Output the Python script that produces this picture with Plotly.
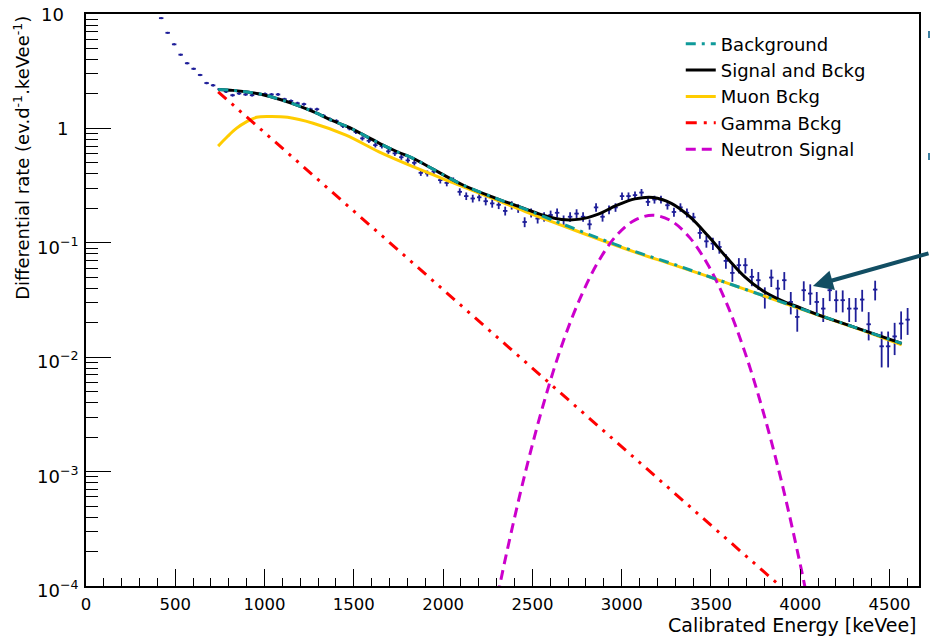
import numpy as np
import plotly.graph_objects as go

# ---------------- data ----------------
bin_first_center = 421.0    # keVee
bin_width = 36.35           # keVee
exposure = 670.0            # rate -> counts conversion for Poisson errors

rate = [9.2, 6.85, 5.43, 4.41, 3.71, 3.32, 2.93, 2.49, 2.38, 2.2,
        2.1, 1.95, 2.02, 1.98, 1.95, 2.0, 2.0, 1.98, 1.98, 1.8,
        1.74, 1.66, 1.63, 1.47, 1.47, 1.29, 1.2, 1.16, 1.05, 1.0,
        0.93, 0.818, 0.78, 0.714, 0.70, 0.63, 0.605, 0.56, 0.525, 0.50,
        0.409, 0.404, 0.42, 0.353, 0.334, 0.35, 0.279, 0.256, 0.244, 0.25,
        0.231, 0.221, 0.215, 0.19, 0.213, 0.20, 0.152, 0.183, 0.163, 0.169,
        0.175, 0.183, 0.158, 0.169, 0.180, 0.169, 0.145, 0.204, 0.169, 0.195,
        0.204, 0.256, 0.256, 0.261, 0.275, 0.228, 0.239, 0.239, 0.213, 0.186,
        0.204, 0.183, 0.167, 0.122, 0.103, 0.0986, 0.092, 0.0695, 0.0546, 0.0637,
        0.0637, 0.0504, 0.0471, 0.0337, 0.0497, 0.0398, 0.0471, 0.0304, 0.0225, 0.0385,
        0.036, 0.0304, 0.0266, 0.0385, 0.0315, 0.0315, 0.0266, 0.0266, 0.0319, 0.0194,
        0.039, 0.01245, 0.01245, 0.0152, 0.0197, 0.0213]

energy = [bin_first_center + bin_width * i for i in range(len(rate))]
rate_err = [np.sqrt(r * exposure) / exposure for r in rate]

# fitted curves
bg_E = [740, 822, 904, 985, 1088, 1180, 1282, 1374, 1467, 1559, 1651, 1743, 1835,
        1927, 2111, 2296, 2460, 2562, 2664, 2869, 3074, 3278, 3483, 3688, 3893,
        4097, 4302, 4568]
bg_y = [2.19, 2.15, 2.08, 1.98, 1.79, 1.60, 1.38, 1.18, 1.03, 0.87, 0.73, 0.625, 0.545,
        0.455, 0.32, 0.245, 0.197, 0.170, 0.147, 0.110, 0.084, 0.066, 0.051, 0.0394, 0.0305,
        0.0236, 0.0183, 0.0132]

sb_E = [740, 822, 904, 985, 1088, 1180, 1282, 1374, 1467, 1559, 1651, 1743, 1835,
        1927, 2111, 2296, 2460, 2562, 2664, 2767, 2869, 2971, 3074, 3176, 3278, 3381,
        3483, 3586, 3688, 3790, 3893, 3995, 4097, 4302, 4568]
sb_y = [2.19, 2.15, 2.08, 1.98, 1.79, 1.60, 1.38, 1.18, 1.03, 0.87, 0.73, 0.625, 0.545,
        0.455, 0.32, 0.245, 0.198, 0.174, 0.160, 0.161, 0.178, 0.212, 0.242, 0.249, 0.221, 0.169,
        0.115, 0.075, 0.0507, 0.0381, 0.0314, 0.0272, 0.0236, 0.0183, 0.0132]

muon_E = [740, 791, 842, 898, 955, 1026, 1129, 1272, 1456, 1641, 1835, 2050, 2255,
          2460, 2664, 2869, 3074, 3278, 3483, 3688, 3893, 4097, 4302, 4568]
muon_y = [0.70, 0.845, 1.0, 1.14, 1.25, 1.27, 1.25, 1.11, 0.873, 0.624, 0.461, 0.338, 0.252,
          0.1875, 0.142, 0.108, 0.083, 0.065, 0.0508, 0.0393, 0.0304, 0.0235, 0.0182, 0.0128]

gamma_E = [740, 1026, 1538, 2050, 2562, 3074, 3586, 4097]
gamma_y = [2.09, 0.845, 0.1675, 0.0332, 0.00659, 0.00131, 2.6e-4, 5.15e-5]

neutron_E = [2255, 2306, 2357, 2460, 2562, 2664, 2767, 2869, 2971, 3074, 3176, 3278,
             3381, 3483, 3586, 3688, 3790, 3893, 3995, 4046, 4097]
neutron_y = [3.2e-5, 8.3e-5, 1.99e-4, 9.8e-4, 3.9e-3, 0.0126, 0.0327, 0.0684, 0.116, 0.158,
             0.174, 0.155, 0.111, 0.0642, 0.030, 0.0113, 3.44e-3, 8.45e-4, 1.68e-4, 6.9e-5, 2.7e-5]

y_tickvals = [1e-4, 1e-3, 1e-2, 1e-1, 1, 10]
y_ticktext = ["10<sup>\u22124</sup>", "10<sup>\u22123</sup>", "10<sup>\u22122</sup>",
              "10<sup>\u22121</sup>", "1", "10"]

# ---------------- styles ----------------
FONT = "DejaVu Sans, Liberation Sans, Arial, sans-serif"
C_DATA = "#1f1f99"
C_TEAL = "#0f9a9a"
C_YEL = "#FFCC00"
C_RED = "#FF0000"
C_MAG = "#CC00CC"

fig = go.Figure()

fig.add_trace(go.Scatter(
    x=energy, y=rate, mode="markers",
    marker=dict(size=2, color=C_DATA),
    error_x=dict(type="constant", value=12.5, thickness=1.8, width=0, color=C_DATA),
    error_y=dict(type="data", array=rate_err, thickness=1.8, width=0, color=C_DATA),
    showlegend=False, hoverinfo="skip"))

fig.add_trace(go.Scatter(x=muon_E, y=muon_y, mode="lines", name="Muon Bckg",
                         line=dict(color=C_YEL, width=3, shape="spline"),
                         legendrank=3))
fig.add_trace(go.Scatter(x=gamma_E, y=gamma_y, mode="lines", name="Gamma Bckg",
                         line=dict(color=C_RED, width=3, dash="11px,7px,3px,7px,3px,7px"),
                         legendrank=4))
fig.add_trace(go.Scatter(x=neutron_E, y=neutron_y, mode="lines", name="Neutron Signal",
                         line=dict(color=C_MAG, width=3, dash="10px,6px", shape="spline"),
                         legendrank=5))
fig.add_trace(go.Scatter(x=sb_E, y=sb_y, mode="lines", name="Signal and Bckg",
                         line=dict(color="black", width=3, shape="spline"),
                         legendrank=2))
fig.add_trace(go.Scatter(x=bg_E, y=bg_y, mode="lines", name="Background",
                         line=dict(color=C_TEAL, width=3, dash="10px,6px,3px,6px", shape="spline"),
                         legendrank=1))

# y tick labels placed as text next to the axis (ROOT-like alignment)
ytick_annotations = []
for val, txt in zip(y_tickvals, y_ticktext):
    has_sup = "<sup>" in txt
    shift = -6 if has_sup else (-16 if txt == "1" else -20)
    ytick_annotations.append(dict(
        text=txt, xref="paper", yref="y", x=0, y=np.log10(val),
        xanchor="right", yanchor="middle", xshift=shift, yshift=(-3 if has_sup else 0),
        showarrow=False, font=dict(family=FONT, size=18, color="black")))

fig.update_layout(
    width=930, height=637,
    margin=dict(l=86, r=11, t=14, b=51, autoexpand=False),
    paper_bgcolor="white", plot_bgcolor="white",
    font=dict(family=FONT, size=16, color="black"),
    showlegend=True,
    legend=dict(x=0.714, y=0.980, xanchor="left", yanchor="top",
                bgcolor="rgba(0,0,0,0)", borderwidth=0,
                font=dict(family=FONT, size=18, color="black"),
                tracegroupgap=0),
    xaxis=dict(range=[0, 4665], tick0=0, dtick=500, ticks="inside", ticklen=17,
               tickwidth=1, tickcolor="black", showgrid=False, zeroline=False,
               showline=True, linecolor="black", linewidth=1.5, mirror=True,
               automargin=False, ticklabeloverflow="allow",
               tickfont=dict(family=FONT, size=16.5), ticklabelstandoff=2,
               minor=dict(dtick=100, ticks="inside", ticklen=8, tickwidth=1,
                          tickcolor="black", showgrid=False)),
    yaxis=dict(type="log", range=[-4, 1], tickvals=y_tickvals, showticklabels=False,
               ticks="inside", ticklen=25, tickwidth=1, tickcolor="black",
               showgrid=False, zeroline=False, showline=True, linecolor="black",
               linewidth=1.5, mirror=True, automargin=False,
               minor=dict(tickvals=[m * 10.0 ** e for e in range(-4, 1) for m in range(2, 10)],
                          ticks="inside", ticklen=12, tickwidth=1, tickcolor="black",
                          showgrid=False)),
    annotations=ytick_annotations + [
        dict(text="Calibrated Energy [keVee]", xref="paper", yref="paper",
             x=1.0, y=-0.0675, xanchor="right", yanchor="middle", showarrow=False,
             font=dict(family=FONT, size=19)),
        dict(text="Differential rate (ev.d<sup>-1</sup>.keVee<sup>-1</sup>)",
             xref="paper", yref="paper", x=-0.077, y=1.0, xanchor="center", yanchor="top",
             textangle=-90, showarrow=False, font=dict(family=FONT, size=18)),
        dict(text="", x=4071, y=np.log10(0.042), xref="x", yref="y",
             ax=122, ay=-33, showarrow=True, arrowhead=2, arrowsize=1,
             arrowwidth=4, arrowcolor="#124e63", standoff=0),
    ],
    shapes=[
        dict(type="rect", xref="paper", yref="paper", xsizemode="pixel", xanchor=1.0,
             x0=9, x1=13, y0=(586 - 38) / 572, y1=(586 - 31) / 572,
             fillcolor="#3d7fa0", line=dict(width=0)),
        dict(type="rect", xref="paper", yref="paper", xsizemode="pixel", xanchor=1.0,
             x0=9, x1=13, y0=(586 - 160) / 572, y1=(586 - 153) / 572,
             fillcolor="#3d7fa0", line=dict(width=0)),
    ],
)

fig.write_html("out.html")
